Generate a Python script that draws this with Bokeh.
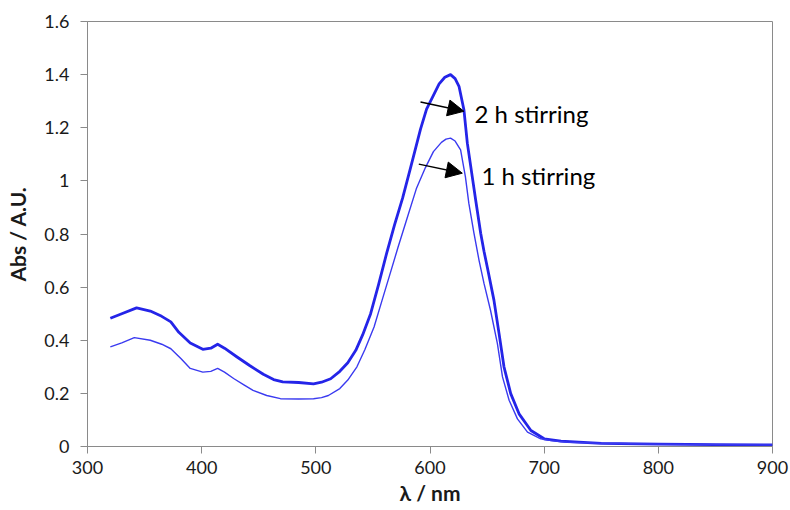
from bokeh.plotting import figure
from bokeh.models import Range1d, FixedTicker, CustomJSTickFormatter, Arrow, NormalHead, Label
from bokeh.embed import file_html
from bokeh.resources import INLINE

# ---- data ----
wl_2h = [320, 330, 343, 355, 365, 373, 380, 390, 401, 408, 414, 420, 431, 442, 454, 463,
         471, 485, 498, 505, 513, 521, 528, 535, 541, 548, 555, 562, 569, 576, 583, 591.7,
         597, 603, 608, 613, 618, 622, 625.4, 629.7, 632.7, 637, 640, 644.4, 647.3, 650.2,
         656, 660.5, 664.8, 670.7, 678, 688.4, 700, 714.7, 750, 800, 850, 900]
abs_2h = [0.483, 0.50, 0.522, 0.51, 0.49, 0.469, 0.43, 0.39, 0.366, 0.370, 0.385, 0.37, 0.337,
          0.305, 0.272, 0.252, 0.243, 0.241, 0.236, 0.242, 0.255, 0.283, 0.315, 0.362, 0.42,
          0.50, 0.61, 0.727, 0.835, 0.935, 1.05, 1.195, 1.27, 1.322, 1.365, 1.39, 1.40, 1.385,
          1.356, 1.268, 1.142, 1.016, 0.928, 0.803, 0.735, 0.675, 0.551, 0.425, 0.30, 0.199,
          0.123, 0.06, 0.029, 0.02, 0.012, 0.009, 0.007, 0.006]

wl_1h = [320, 330, 341, 355, 365, 373, 382, 390, 401, 408, 414, 420, 428, 437, 445, 457,
         469, 485, 498, 505, 511, 521, 528, 536, 543, 551, 558, 565, 572, 580, 588, 596,
         603, 610, 614, 618, 622, 626.8, 631, 634, 638.5, 643, 647.3, 653, 659, 663.5,
         669.3, 676.6, 685.4, 697, 706, 720, 750, 800, 850, 900]
abs_1h = [0.375, 0.39, 0.41, 0.40, 0.385, 0.368, 0.33, 0.294, 0.28, 0.283, 0.294, 0.28, 0.256,
          0.232, 0.211, 0.192, 0.18, 0.179, 0.18, 0.184, 0.192, 0.218, 0.25, 0.30, 0.365, 0.45,
          0.55, 0.65, 0.75, 0.86, 0.97, 1.05, 1.11, 1.145, 1.157, 1.161, 1.15, 1.117,
          1.016, 0.916, 0.803, 0.70, 0.614, 0.513, 0.388, 0.262, 0.174, 0.104, 0.054, 0.029,
          0.022, 0.016, 0.012, 0.009, 0.007, 0.006]

x_ticks = [300, 400, 500, 600, 700, 800, 900]
y_ticks = [0, 0.2, 0.4, 0.6, 0.8, 1.0, 1.2, 1.4, 1.6]

labels = ["2 h stirring", "1 h stirring"]
# annotation anchors (data units): arrow start, arrow end, text position
arrow_2h = (591.7, 1.297, 629.7, 1.262)
arrow_1h = (590.2, 1.063, 628.3, 1.029)
text_2h = (639, 1.253)
text_1h = (645, 1.019)

FONT = "Lato"
AXIS_GRAY = "#8a8a8a"

p = figure(width=790, height=510, output_backend="svg", toolbar_location=None,
           x_range=Range1d(300, 900), y_range=Range1d(0, 1.6),
           min_border_left=87, min_border_top=21, min_border_right=18, min_border_bottom=64)
p.xgrid.visible = False
p.ygrid.visible = False
p.outline_line_color = AXIS_GRAY
p.outline_line_width = 1

p.line(wl_2h, abs_2h, line_color="#2424E8", line_width=2.8, line_join="round")
p.line(wl_1h, abs_1h, line_color="#3a3af0", line_width=1.4, line_join="round")

for ax in (p.xaxis[0], p.yaxis[0]):
    ax.axis_line_color = AXIS_GRAY
    ax.major_tick_line_color = AXIS_GRAY
    ax.major_tick_in = 0
    ax.major_tick_out = 7
    ax.minor_tick_line_color = None
    ax.major_label_text_font = FONT
    ax.major_label_text_font_size = "18px"
    ax.major_label_text_color = "#1a1a1a"
    ax.axis_label_text_font = FONT
    ax.axis_label_text_font_style = "bold"
    ax.axis_label_text_font_size = "21px"
    ax.axis_label_text_color = "#1a1a1a"

p.xaxis.ticker = FixedTicker(ticks=x_ticks)
p.yaxis.ticker = FixedTicker(ticks=y_ticks)
p.yaxis.formatter = CustomJSTickFormatter(code="return String(Math.round(tick*10)/10);")
p.xaxis.axis_label = "λ / nm"
p.yaxis.axis_label = "Abs / A.U."
p.xaxis.major_label_standoff = 7
p.yaxis.major_label_standoff = 11
p.xaxis.axis_label_standoff = 3
p.yaxis.axis_label_standoff = 11

for (x0, y0, x1, y1) in (arrow_2h, arrow_1h):
    p.add_layout(Arrow(x_start=x0, y_start=y0, x_end=x1, y_end=y1, line_width=1.5,
                       line_color="black",
                       end=NormalHead(size=16, fill_color="black", line_color="black")))

for txt, (tx, ty) in zip(labels, (text_2h, text_1h)):
    p.add_layout(Label(x=tx, y=ty, text=txt, text_font=FONT, text_font_size="24px",
                       text_baseline="middle", text_color="black"))

open("out.html", "w").write(file_html(p, INLINE))
